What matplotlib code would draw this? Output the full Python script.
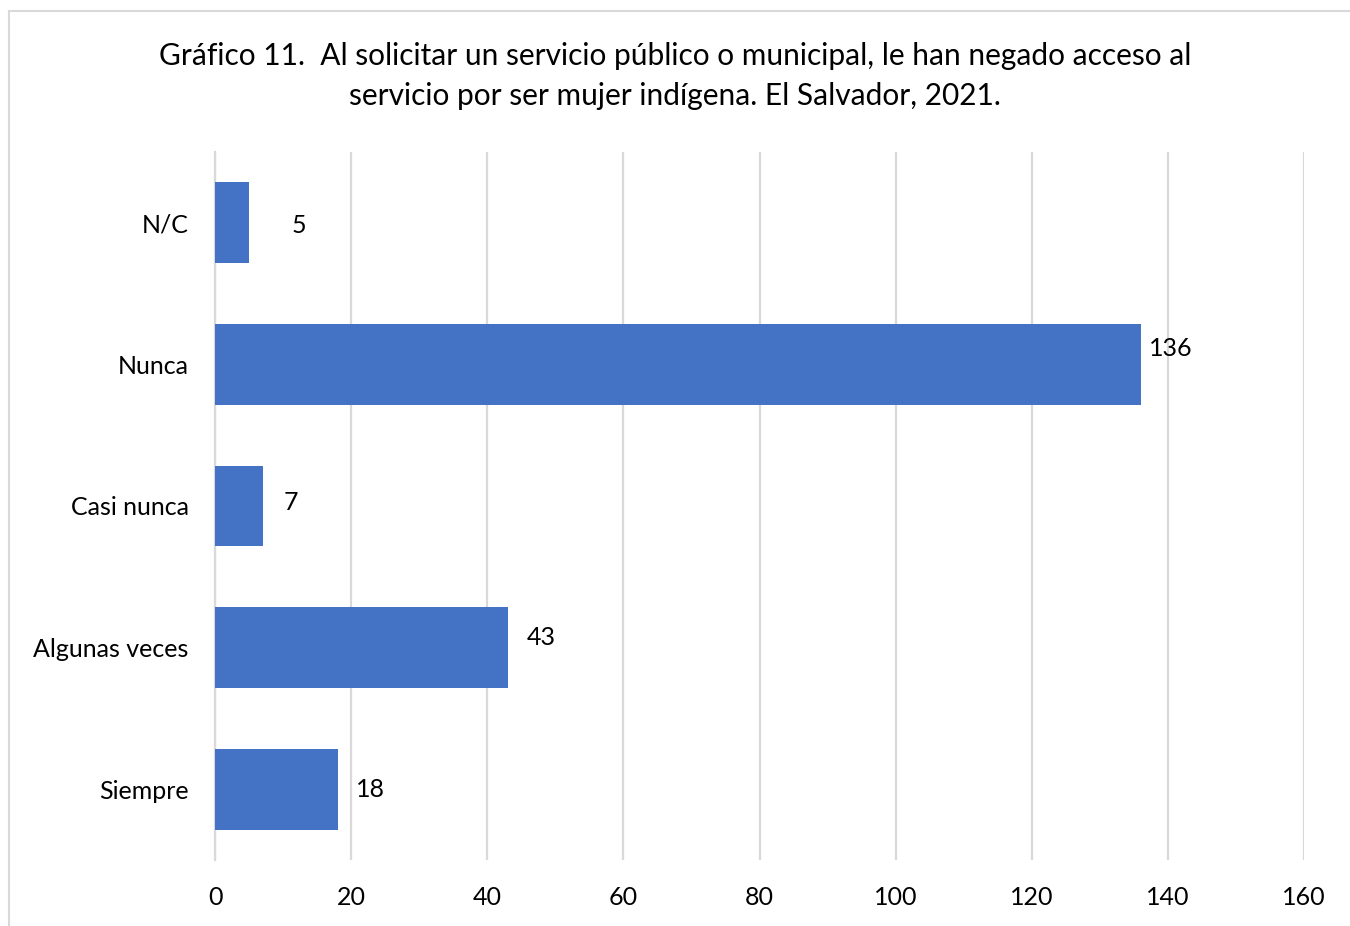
import matplotlib
matplotlib.use('Agg')
import matplotlib.pyplot as plt
from matplotlib.lines import Line2D

plt.rcParams['font.family'] = ['Lato', 'DejaVu Sans']

categories = ['Siempre', 'Algunas veces', 'Casi nunca', 'Nunca', 'N/C']
values = [18, 43, 7, 136, 5]
x_ticks = [0, 20, 40, 60, 80, 100, 120, 140, 160]
title = ('Gráfico 11.  Al solicitar un servicio público o municipal, le han negado acceso al\n'
         'servicio por ser mujer indígena. El Salvador, 2021.')

# label offsets in pixels (dx, dy), mimicking the hand-moved labels of the source
label_offsets = [(18, 0), (19, 10), (21, 3), (8, 16), (42, -3)]

bar_color = '#4472C4'
grid_color = '#D9D9D9'

fig = plt.figure(figsize=(13.5, 9.26), dpi=100)
ax = fig.add_axes([0.1593, 0.0713, 0.8067, 0.7646])

ypos = list(range(len(categories)))
ax.barh(ypos, values, height=0.57, color=bar_color, zorder=3)

ax.set_xlim(0, 160)
ax.set_ylim(-0.5, len(categories) - 0.5)
ax.set_xticks(x_ticks)
ax.set_xticklabels([str(t) for t in x_ticks])
ax.set_yticks(ypos)
ax.set_yticklabels(categories)
ax.tick_params(axis='both', length=0, labelsize=18, colors='black')
ax.tick_params(axis='x', pad=19)
ax.tick_params(axis='y', pad=19)
ax.xaxis.grid(True, color=grid_color, linewidth=1.6, zorder=0)
for s in ['top', 'right', 'bottom']:
    ax.spines[s].set_visible(False)
ax.spines['left'].set_color(grid_color)
ax.spines['left'].set_linewidth(1.6)

for y, v, (dx, dy) in zip(ypos, values, label_offsets):
    ax.annotate(str(v), xy=(v, y), xytext=(dx * 0.72, dy * 0.72), textcoords='offset points',
                ha='left', va='center', fontsize=18, zorder=4)

fig.text(0.5, 0.918, title, ha='center', va='center', fontsize=21.5, linespacing=1.5)

# light frame of the original chart area
fig.add_artist(Line2D([9 / 1350, 9 / 1350], [0, 1 - 11 / 926], color='#D9D9D9', linewidth=1.5))
fig.add_artist(Line2D([9 / 1350, 1], [1 - 11 / 926, 1 - 11 / 926], color='#D9D9D9', linewidth=1.5))

fig.savefig('out.png', dpi=100)
